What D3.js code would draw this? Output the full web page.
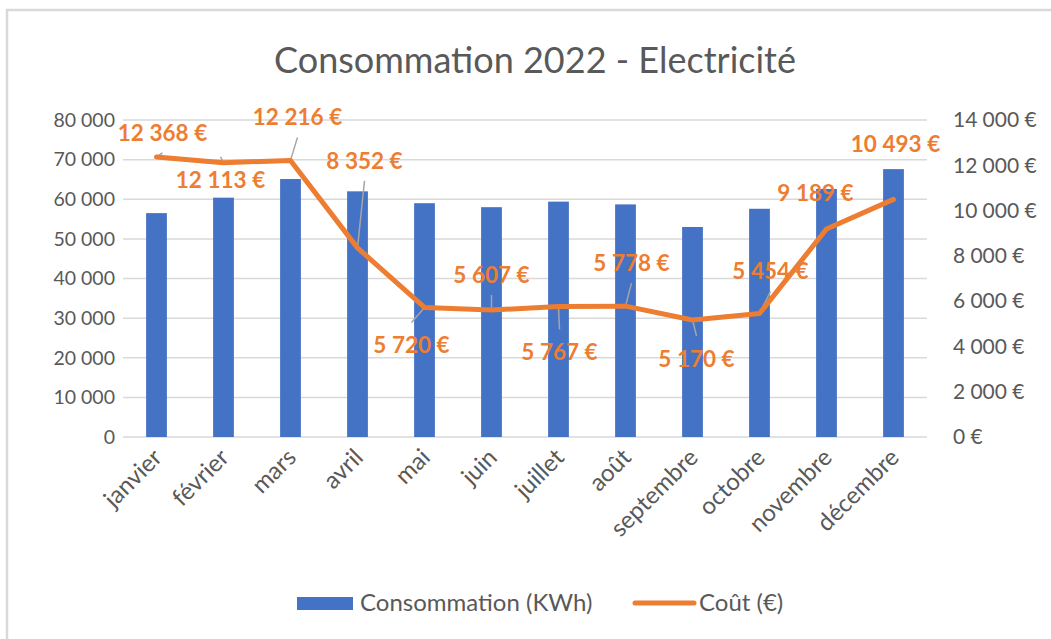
<!DOCTYPE html>
<html>
<head>
<meta charset="utf-8">
<script src="https://cdn.jsdelivr.net/npm/d3@7"></script>
<style>
  body { margin: 0; background: #fff; }
  svg { display: block; font-family: Lato, "Open Sans", sans-serif; }
</style>
</head>
<body>
<div id="root"></div>
<script>
const months = ["janvier", "février", "mars", "avril", "mai", "juin", "juillet", "août", "septembre", "octobre", "novembre", "décembre"];
const consommation = [56500, 60400, 65100, 62000, 59000, 58000, 59400, 58700, 53000, 57600, 62600, 67600];
const cout = [12368, 12113, 12216, 8352, 5720, 5607, 5767, 5778, 5170, 5454, 9189, 10493];
const leftTicks = [0, 10000, 20000, 30000, 40000, 50000, 60000, 70000, 80000];
const rightTicks = [0, 2000, 4000, 6000, 8000, 10000, 12000, 14000];

// where each cost label sits, relative to its point
const labelOffsets = [[6, -24], [-3, 17], [7, -43], [7, -87], [-13, 38], [0, -35], [1, 46], [6, -43], [4, 39], [11, -42], [-11, -36], [2, -55]];

const width = 1051, height = 639;
const plot = { left: 123, right: 927, top: 120, bottom: 437 };
const grey = "#595959";

const svg = d3.select("#root").append("svg")
    .attr("width", width)
    .attr("height", height);

// cadre
svg.append("rect")
    .attr("x", 7).attr("y", 10)
    .attr("width", width + 20).attr("height", height + 20)
    .attr("fill", "#fff")
    .attr("stroke", "#d9d9d9")
    .attr("stroke-width", 2.5);

svg.append("text")
    .attr("x", 535).attr("y", 73)
    .attr("text-anchor", "middle")
    .attr("fill", grey)
    .style("font-size", "36px")
    .text("Consommation 2022 - Electricité");

const x = d3.scaleBand()
    .domain(months)
    .range([plot.left, plot.right])
    .paddingInner(0.69)
    .paddingOuter(0.345);

const xc = d3.scaleBand().domain(months).range([plot.left, plot.right]);

const yLeft = d3.scaleLinear().domain([0, 80000]).range([plot.bottom, plot.top]);
const yRight = d3.scaleLinear().domain([0, 14000]).range([plot.bottom, plot.top]);

const fmt = v => d3.format(",")(v).replace(/,/g, "\u202f");

// grille
svg.append("g")
    .selectAll("line")
    .data(leftTicks)
    .enter()
    .append("line")
    .attr("x1", plot.left).attr("x2", plot.right)
    .attr("y1", d => yLeft(d)).attr("y2", d => yLeft(d))
    .attr("stroke", "#d9d9d9")
    .attr("stroke-width", 1.5);

// axe gauche
const axisL = svg.append("g")
    .attr("transform", "translate(" + plot.left + ",0)")
    .call(d3.axisLeft(yLeft).tickValues(leftTicks).tickFormat(fmt).tickSize(0).tickPadding(8));
axisL.select(".domain").remove();
axisL.selectAll("text").attr("fill", grey).style("font-size", "19.5px").style("font-family", "Lato");

// axe droit
const axisR = svg.append("g")
    .attr("transform", "translate(" + plot.right + ",0)")
    .call(d3.axisRight(yRight).tickValues(rightTicks).tickFormat(d => fmt(d) + "\u00a0€").tickSize(0).tickPadding(26));
axisR.select(".domain").remove();
axisR.selectAll("text").attr("fill", grey).style("font-size", "21px").style("font-family", "Lato");

// barres
svg.append("g")
    .selectAll("rect")
    .data(consommation)
    .enter()
    .append("rect")
    .attr("x", (d, i) => x(months[i]))
    .attr("y", d => yLeft(d))
    .attr("width", x.bandwidth())
    .attr("height", d => plot.bottom - yLeft(d))
    .attr("fill", "#4472c4");

// étiquettes de l'axe x
svg.append("g")
    .selectAll("text")
    .data(months)
    .enter()
    .append("text")
    .attr("transform", d => "translate(" + (xc(d) + xc.bandwidth() / 2 + 7) + ",459) rotate(-45)")
    .attr("text-anchor", "end")
    .attr("fill", grey)
    .style("font-size", "24px")
    .text(d => d);

const px = i => xc(months[i]) + xc.bandwidth() / 2;
const pts = cout.map((v, i) => [px(i), yRight(v)]);

// lignes de rappel
svg.append("g")
    .selectAll("line")
    .data(cout)
    .enter()
    .filter((d, i) => Math.abs(labelOffsets[i][1]) > 30)
    .append("line")
    .attr("x1", (d, i) => pts[i][0])
    .attr("y1", (d, i) => pts[i][1])
    .attr("x2", (d, i) => pts[i][0] + labelOffsets[i][0])
    .attr("y2", (d, i) => pts[i][1] + labelOffsets[i][1] + (labelOffsets[i][1] < 0 ? 20 : -23))
    .attr("stroke", "#a6a6a6")
    .attr("stroke-width", 1.5);

// courbe du coût
svg.append("path")
    .datum(cout)
    .attr("d", d3.line().x((d, i) => px(i)).y(d => yRight(d)))
    .attr("fill", "none")
    .attr("stroke", "#ed7d31")
    .attr("stroke-width", 5)
    .attr("stroke-linejoin", "round")
    .attr("stroke-linecap", "round");

// étiquettes du coût
svg.append("g")
    .selectAll("text")
    .data(cout)
    .enter()
    .append("text")
    .attr("x", (d, i) => pts[i][0] + labelOffsets[i][0])
    .attr("y", (d, i) => pts[i][1] + labelOffsets[i][1])
    .attr("dy", "0.35em")
    .attr("text-anchor", "middle")
    .attr("fill", "#ed7d31")
    .style("font-size", "22.5px")
    .style("font-weight", "bold")
    .text(d => fmt(d) + "\u00a0€");

// légende
const legend = svg.append("g").style("font-size", "24px").attr("fill", grey);
legend.append("rect")
    .attr("x", 297).attr("y", 597)
    .attr("width", 56).attr("height", 13)
    .attr("fill", "#4472c4");
legend.append("text")
    .attr("x", 360).attr("y", 603).attr("dy", "0.35em")
    .text("Consommation (KWh)");
legend.append("line")
    .attr("x1", 635).attr("x2", 694)
    .attr("y1", 603).attr("y2", 603)
    .attr("stroke", "#ed7d31")
    .attr("stroke-width", 5)
    .attr("stroke-linecap", "round");
legend.append("text")
    .attr("x", 699).attr("y", 603).attr("dy", "0.35em")
    .text("Coût (€)");
</script>
</body>
</html>
